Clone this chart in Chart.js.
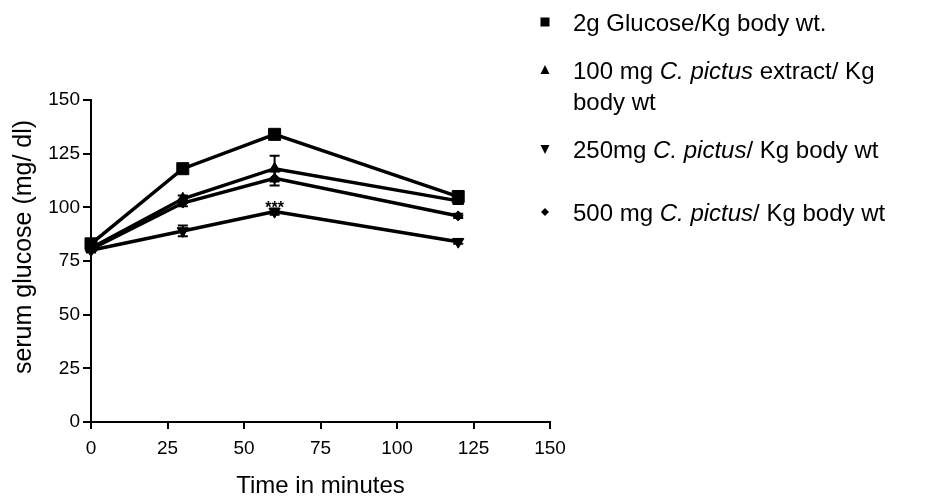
<!DOCTYPE html>
<html>
<head>
<meta charset="utf-8">
<script src="https://cdn.jsdelivr.net/npm/chart.js@4.4.1/dist/chart.umd.min.js"></script>
<style>
  body { margin: 0; background: #fff; }
  #wrap { position: relative; width: 925px; height: 501px; }
  #legend { position: absolute; left: 0; top: 0; font-family: "Liberation Sans", Arial, sans-serif; font-size: 24px; color: #000; }
  .item { position: absolute; left: 573px; line-height: 31px; white-space: nowrap; }
  .item svg { position: absolute; left: -35px; top: 8px; }
</style>
</head>
<body>
<div id="wrap">
  <canvas id="myChart" width="925" height="501"></canvas>
  <div id="legend">
    <div class="item" style="top:7px"><svg width="14" height="14"><rect x="2.5" y="2.5" width="9" height="9" fill="#000"/></svg>2g Glucose/Kg body wt.</div>
    <div class="item" style="top:55px"><svg width="14" height="14"><polygon points="7,2 11.5,11 2.5,11" fill="#000"/></svg>100 mg <i>C. pictus</i> extract/ Kg<br>body wt</div>
    <div class="item" style="top:134px"><svg width="14" height="14"><polygon points="2.5,3 11.5,3 7,12" fill="#000"/></svg>250mg <i>C. pictus</i>/ Kg body wt</div>
    <div class="item" style="top:197px"><svg width="14" height="14"><polygon points="7,3 11,7 7,11 3,7" fill="#000"/></svg>500 mg <i>C. pictus</i>/ Kg body wt</div>
  </div>
</div>
<script>
// time points (minutes) and mean serum glucose (mg/dl) with error bars
const times = [0, 30, 60, 120];
const glucose = [83, 118, 134, 105];
const glucoseErr = [1.5, 1.5, 1.5, 2.5];
const ext100 = [81, 104, 118, 103];
const ext100Err = [1, 1.5, 6, 1.5];
const ext250 = [80, 89, 98, 84];
const ext250Err = [1, 2.5, 1.5, 1];
const ext500 = [80.5, 102, 113.5, 96];
const ext500Err = [1, 1.5, 3.3, 1];
const xTicks = [0, 25, 50, 75, 100, 125, 150];
const yTicks = [0, 25, 50, 75, 100, 125, 150];
// "***" mark above the 250 mg series at 60 min
const sigMark = { series: 2, index: 2, text: "***" };

const FONT = "'Liberation Sans', Arial, sans-serif";
Chart.defaults.font.family = FONT;
Chart.defaults.color = "#000";

function points(vals) {
	return times.map((t, i) => ({ x: t, y: vals[i] }));
}

function series(label, vals, errs, style, radius, rotation) {
	return {
		label: label,
		data: points(vals),
		errors: errs,
		borderColor: "#000",
		backgroundColor: "#000",
		borderWidth: 3.5,
		pointStyle: style,
		pointRadius: radius,
		pointRotation: rotation,
		pointBorderWidth: 1,
		pointBackgroundColor: "#000",
		pointBorderColor: "#000",
		tension: 0,
		clip: false,
	};
}

const data = {
	datasets: [
		series("2g Glucose/Kg body wt.", glucose, glucoseErr, "rect", 8.5, 0),
		series("100 mg C. pictus extract/ Kg body wt", ext100, ext100Err, "triangle", 6.5, 0),
		series("250mg C. pictus/ Kg body wt", ext250, ext250Err, "triangle", 6.5, 180),
		series("500 mg C. pictus/ Kg body wt", ext500, ext500Err, "rectRot", 5, 0),
	],
};

const extras = {
	id: "extras",
	afterDatasetsDraw(chart) {
		const c = chart.ctx;
		const xs = chart.scales.x;
		const ys = chart.scales.y;
		c.save();
		c.strokeStyle = "#000";
		c.lineWidth = 2;
		chart.data.datasets.forEach((ds) => {
			ds.data.forEach((p, i) => {
				const e = ds.errors[i];
				const px = xs.getPixelForValue(p.x);
				const top = ys.getPixelForValue(p.y + e);
				const bot = ys.getPixelForValue(p.y - e);
				c.beginPath();
				c.moveTo(px, top);
				c.lineTo(px, bot);
				c.moveTo(px - 5, top);
				c.lineTo(px + 5, top);
				c.moveTo(px - 5, bot);
				c.lineTo(px + 5, bot);
				c.stroke();
			});
		});
		// significance mark
		const sp = chart.data.datasets[sigMark.series].data[sigMark.index];
		c.fillStyle = "#000";
		c.font = "bold 16px " + FONT;
		c.textAlign = "center";
		c.textBaseline = "alphabetic";
		c.fillText(sigMark.text, xs.getPixelForValue(sp.x), ys.getPixelForValue(sp.y) + 1);
		// y axis title
		c.translate(24, 247);
		c.rotate(-Math.PI / 2);
		c.font = "25px " + FONT;
		c.textBaseline = "middle";
		c.fillText("serum glucose (mg/ dl)", 0, 0);
		c.restore();
	},
};

const axisCommon = {
	min: 0,
	max: 150,
	border: { color: "#000", width: 2 },
};

const config = {
	type: "line",
	data: data,
	options: {
		responsive: false,
		animation: false,
		layout: { padding: { top: 100, right: 375, left: 0, bottom: 0 } },
		plugins: {
			legend: { display: false },
			tooltip: { enabled: false },
		},
		scales: {
			x: {
				...axisCommon,
				type: "linear",
				grid: { drawOnChartArea: false, color: "#000", lineWidth: 2, tickLength: 7 },
				ticks: { color: "#000", font: { size: 19 }, padding: 8, maxRotation: 0 },
				title: { display: true, text: "Time in minutes", color: "#000", font: { size: 24 }, padding: 0 },
				afterBuildTicks: (s) => { s.ticks = xTicks.map((v) => ({ value: v })); },
				afterFit: (s) => { s.height = 79; },
			},
			y: {
				...axisCommon,
				type: "linear",
				grid: { drawOnChartArea: false, color: "#000", lineWidth: 2, tickLength: 8 },
				ticks: { color: "#000", font: { size: 19 }, padding: 3 },
				afterBuildTicks: (s) => { s.ticks = yTicks.map((v) => ({ value: v })); },
				afterFit: (s) => { s.width = 91; },
			},
		},
	},
	plugins: [extras],
};

new Chart(document.getElementById("myChart"), config);
</script>
</body>
</html>
